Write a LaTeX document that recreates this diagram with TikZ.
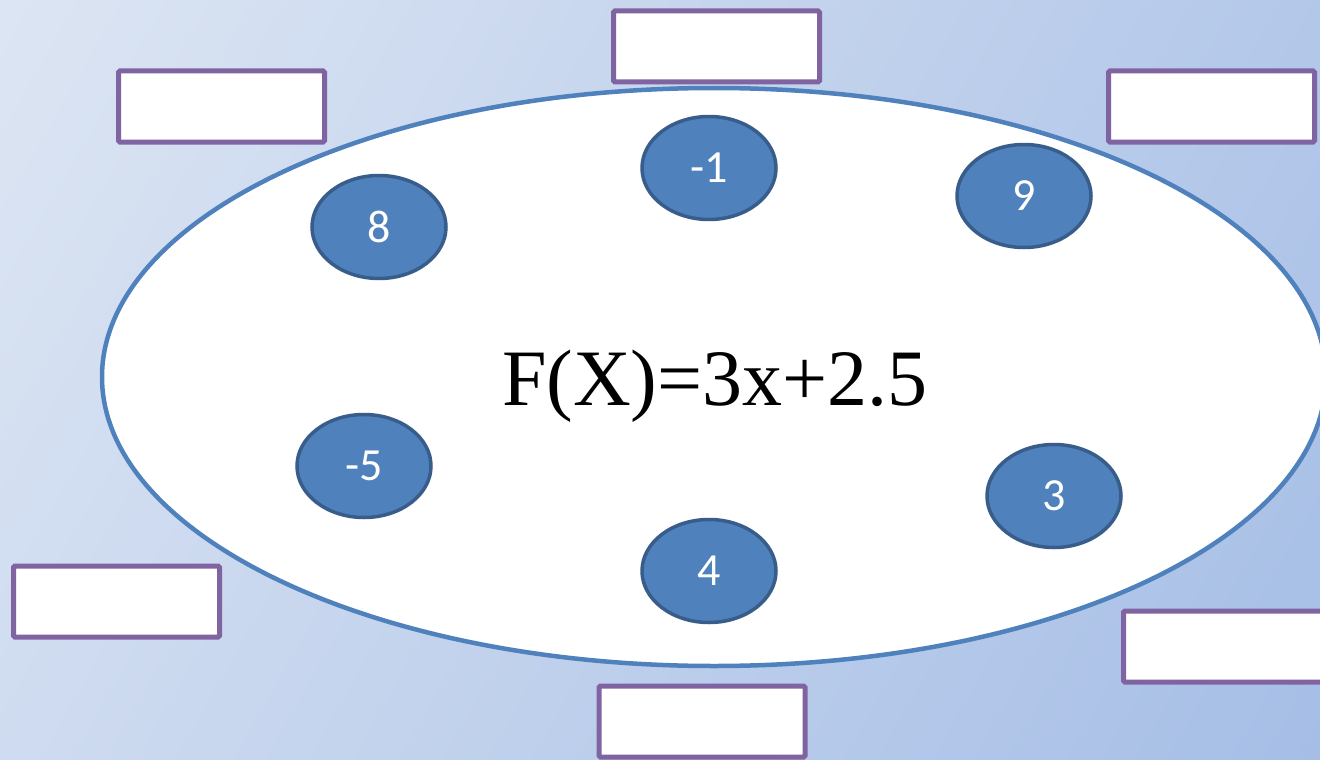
\documentclass[tikz,border=0pt]{standalone}
\usepackage{fontspec}
\setmainfont{Liberation Serif}
\newfontfamily\numfont{Carlito}
\usetikzlibrary{shapes.geometric}
\definecolor{bgA}{HTML}{DCE5F3}
\definecolor{bgB}{HTML}{A6BEE6}
\definecolor{ellBorder}{HTML}{4F81BD}
\definecolor{circFill}{HTML}{4F81BD}
\definecolor{circBorder}{HTML}{385D8A}
\definecolor{boxBorder}{HTML}{8064A2}
\tikzset{
  numcirc/.style={ellipse, draw=circBorder, fill=circFill, line width=3.5pt,
    minimum width=134pt, minimum height=103pt, inner sep=0pt,
    text=white, font=\numfont\fontsize{46}{46}\selectfont},
  blankbox/.style={draw=boxBorder, fill=white, line width=5pt,
    rounded corners=1.5pt, minimum width=206pt, minimum height=71pt, inner sep=0pt},
}
\begin{document}
\begin{tikzpicture}[x=1pt,y=-1pt]
\useasboundingbox (0,0) rectangle (1320,760);
\begin{scope}
\clip (0,0) rectangle (1320,760);
\shade[shading=axis, left color=bgB, right color=bgA, shading angle=-120] (-200,-200) rectangle (1520,960);
\node[ellipse, draw=ellBorder, fill=white, line width=4.5pt, minimum width=1224pt, minimum height=578pt, inner sep=0pt] (main) at (714,377) {};
\node[font=\fontsize{80}{80}\selectfont, anchor=base] (fx) at (715,405) {F(X)=3x+2.5};
\node[numcirc] (c1) at (709,168) {-1};
\node[numcirc] (c8) at (379,227) {8};
\node[numcirc] (c9) at (1024,196) {9};
\node[numcirc] (c5) at (364,466) {-5};
\node[numcirc] (c3) at (1054,496) {3};
\node[numcirc] (c4) at (709,571) {4};
\node[blankbox] (b1) at (716.5,46.5) {};
\node[blankbox] (b2) at (221.5,106.5) {};
\node[blankbox] (b3) at (1211.5,106.5) {};
\node[blankbox] (b4) at (116.5,601.5) {};
\node[blankbox] (b5) at (702,721.5) {};
\node[blankbox] (b6) at (1226.5,646.5) {};
\end{scope}
\end{tikzpicture}
\end{document}
